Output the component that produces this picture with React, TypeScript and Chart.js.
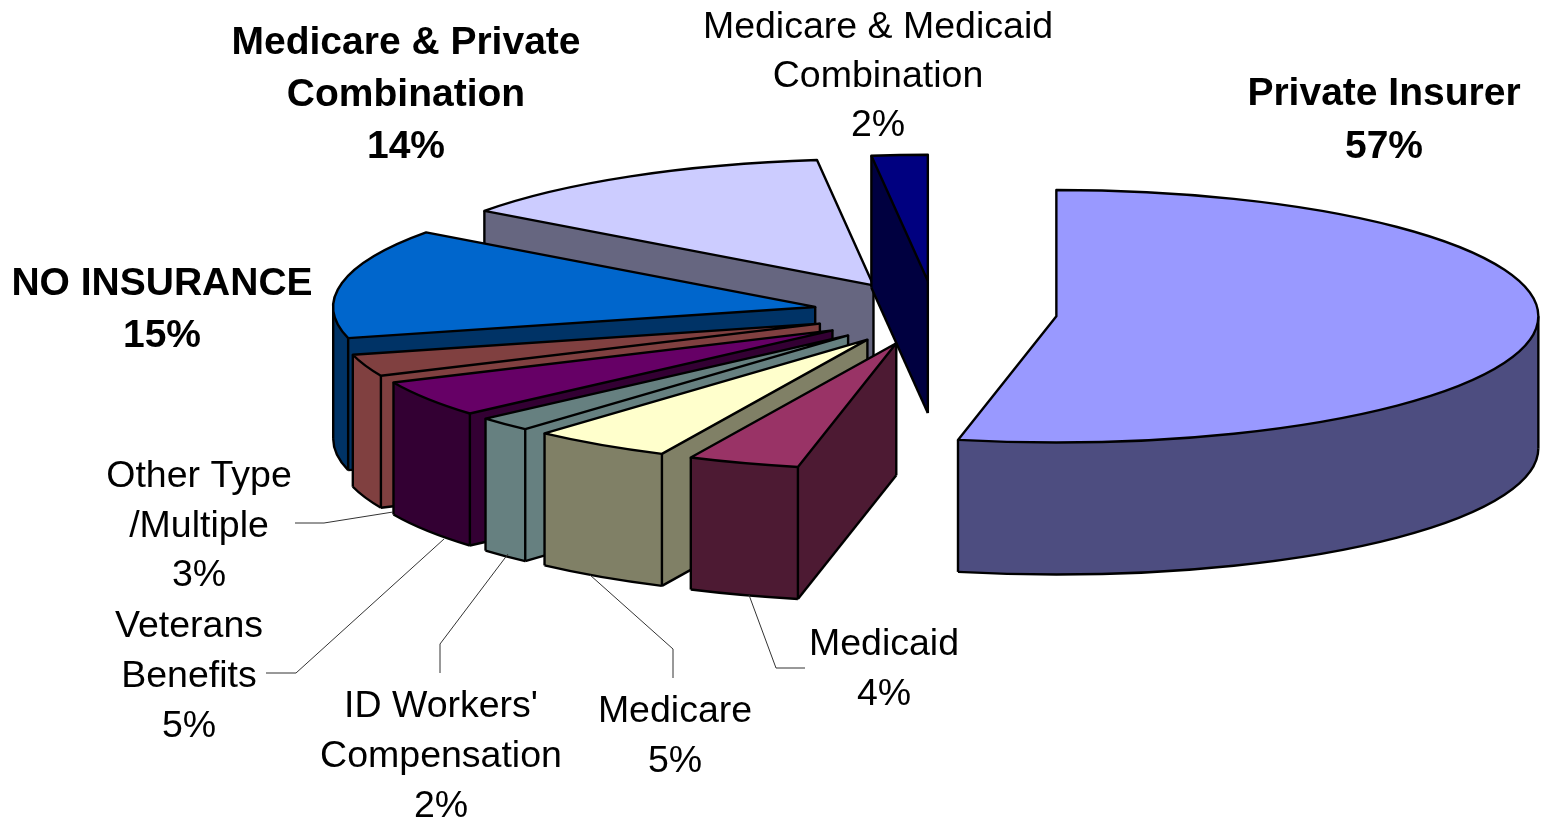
import React, { useEffect, useRef } from "react";
import { Chart, registerables } from "chart.js";

Chart.register(...registerables);

// ---- data (clockwise from 12 o'clock) ----
const categories = [
  "Private Insurer",
  "Medicaid",
  "Medicare",
  "ID Workers' Compensation",
  "Veterans Benefits",
  "Other Type /Multiple",
  "NO INSURANCE",
  "Medicare & Private Combination",
  "Medicare & Medicaid Combination",
];
const shares = [57, 4, 5, 2, 5, 3, 15, 14, 2];
const labelLines = [
  ["Private Insurer", "57%"],
  ["Medicaid", "4%"],
  ["Medicare", "5%"],
  ["ID Workers'", "Compensation", "2%"],
  ["Veterans", "Benefits", "5%"],
  ["Other Type", "/Multiple", "3%"],
  ["NO INSURANCE", "15%"],
  ["Medicare & Private", "Combination", "14%"],
  ["Medicare & Medicaid", "Combination", "2%"],
];
const boldLabels = [true, false, false, false, false, false, true, true, false];

// ---- styles and layout ----
const topColors = ["#9999FF", "#993366", "#FFFFCC", "#668080", "#660066", "#804040", "#0066CC", "#CCCCFF", "#000080"];
const sideColors = ["#4D4D80", "#4D1A33", "#808066", "#668080", "#330033", "#804040", "#003366", "#666680", "#000040"];
const paintOrder = [7, 8, 0, 6, 5, 4, 3, 2, 1];
const labelCentres = [1384, 884, 675, 441, 189, 199, 162, 406, 878];
const labelBaselines = [105, 655, 722, 717, 637, 487, 295, 54, 38];
const lineSteps = [53, 50, 50, 50, 50, 49.5, 52, 52, 49];
const leaders = [
  [[295, 523], [324, 523], [393, 512]],
  [[266, 673], [296, 673], [444, 539]],
  [[440, 673], [440, 644], [508, 554]],
  [[673, 678], [673, 649], [590, 575]],
  [[805, 668], [776, 668], [749, 595]],
];
const PIE = { squash: 0.262, depth: 132, explode: 122, radius: 482, centreX: 935, centreY: 313 };

const pie3d = {
  id: "pie3d",
  beforeDatasetsDraw(chart: any) {
    const ctx = chart.ctx as CanvasRenderingContext2D;
    const arcs = chart.getDatasetMeta(0).data;
    const { squash, depth, explode } = PIE;

    const place = (el: any) => {
      const p = el.getProps(["x", "y", "startAngle", "endAngle", "outerRadius"], true);
      const mid = (p.startAngle + p.endAngle) / 2;
      return {
        ...p,
        px: p.x + Math.cos(mid) * explode,
        py: p.y + Math.sin(mid) * explode * squash,
      };
    };
    const rimX = (g: any, a: number) => g.px + Math.cos(a) * g.outerRadius;
    const rimY = (g: any, a: number) => g.py + Math.sin(a) * g.outerRadius * squash;
    const wedgePath = (g: any) => {
      ctx.beginPath();
      ctx.moveTo(g.px, g.py);
      ctx.ellipse(g.px, g.py, g.outerRadius, g.outerRadius * squash, 0, g.startAngle, g.endAngle);
      ctx.closePath();
    };

    ctx.save();
    ctx.lineWidth = 2.4;
    ctx.lineJoin = "round";
    ctx.strokeStyle = "#000";
    for (const i of paintOrder) {
      const el = arcs[i];
      const g = place(el);
      const a0 = g.startAngle;
      const a1 = g.endAngle;
      const rx = g.outerRadius;
      const ry = g.outerRadius * squash;
      const startFace = -Math.cos(a0) > 1e-6;
      const endFace = Math.cos(a1) > 1e-6;
      const from = Math.max(a0, 0);
      const to = Math.min(a1, Math.PI);

      // side wall: front of the rim, and the radial faces that look at the viewer
      ctx.fillStyle = sideColors[i];
      if (to > from) {
        ctx.beginPath();
        ctx.ellipse(g.px, g.py, rx, ry, 0, from, to);
        ctx.ellipse(g.px, g.py + depth, rx, ry, 0, to, from, true);
        ctx.closePath();
        ctx.fill();
      }
      const face = (a: number) => {
        ctx.beginPath();
        ctx.moveTo(g.px, g.py);
        ctx.lineTo(rimX(g, a), rimY(g, a));
        ctx.lineTo(rimX(g, a), rimY(g, a) + depth);
        ctx.lineTo(g.px, g.py + depth);
        ctx.closePath();
        ctx.fill();
      };
      if (startFace) face(a0);
      if (endFace) face(a1);

      // visible edges of the side wall
      const vertical = (x: number, y: number) => {
        ctx.beginPath();
        ctx.moveTo(x, y);
        ctx.lineTo(x, y + depth);
        ctx.stroke();
      };
      if (to > from) {
        ctx.beginPath();
        ctx.ellipse(g.px, g.py + depth, rx, ry, 0, from, to);
        ctx.stroke();
      }
      const bottomEdge = (a: number) => {
        ctx.beginPath();
        ctx.moveTo(g.px, g.py + depth);
        ctx.lineTo(rimX(g, a), rimY(g, a) + depth);
        ctx.stroke();
      };
      if (startFace) bottomEdge(a0);
      if (endFace) bottomEdge(a1);
      if (startFace || Math.sin(a0) > 0) vertical(rimX(g, a0), rimY(g, a0));
      if (endFace || Math.sin(a1) > 0) vertical(rimX(g, a1), rimY(g, a1));
      if (startFace || endFace) vertical(g.px, g.py);
      for (const a of [0, Math.PI]) {
        if (a > a0 && a < a1) vertical(rimX(g, a), rimY(g, a));
      }

      // top face, drawn by the library's own arc element
      ctx.save();
      ctx.translate(g.px, g.py);
      ctx.scale(1, squash);
      ctx.translate(-g.x, -g.y);
      el.draw(ctx);
      ctx.restore();
      wedgePath(g);
      ctx.stroke();
    }
    ctx.restore();
    return false;
  },
  afterDraw(chart: any) {
    const ctx = chart.ctx as CanvasRenderingContext2D;
    ctx.save();
    ctx.strokeStyle = "#333";
    ctx.lineWidth = 1;
    for (const l of leaders) {
      ctx.beginPath();
      l.forEach(([x, y], k) => (k ? ctx.lineTo(x, y) : ctx.moveTo(x, y)));
      ctx.stroke();
    }
    ctx.fillStyle = "#000";
    ctx.textAlign = "center";
    ctx.textBaseline = "alphabetic";
    labelLines.forEach((lines, i) => {
      ctx.font = `${boldLabels[i] ? "bold 39px" : "37.5px"} "Liberation Sans", Arial, sans-serif`;
      lines.forEach((t, k) => ctx.fillText(t, labelCentres[i], labelBaselines[i] + k * lineSteps[i]));
    });
    ctx.restore();
  },
};

export default function App() {
  const ref = useRef<HTMLCanvasElement>(null);
  useEffect(() => {
    const chart = new Chart(ref.current!, {
      type: "pie",
      data: {
        labels: categories,
        datasets: [
          {
            data: shares,
            backgroundColor: topColors,
            borderWidth: 0,
            offset: 0,
            clip: false,
          } as any,
        ],
      },
      options: {
        responsive: false,
        animation: false,
        radius: PIE.radius,
        rotation: 0,
        layout: {
          padding: {
            left: 2 * PIE.centreX - 1543,
            bottom: 820 - 2 * PIE.centreY,
          },
        },
        plugins: { legend: { display: false }, tooltip: { enabled: false }, title: { display: false } },
      } as any,
      plugins: [pie3d as any],
    });
    return () => chart.destroy();
  }, []);
  return (
    <div style={{ position: "absolute", left: 0, top: 0, width: 1543, height: 820, background: "#fff" }}>
      <canvas ref={ref} width={1543} height={820} style={{ display: "block" }} />
    </div>
  );
}
